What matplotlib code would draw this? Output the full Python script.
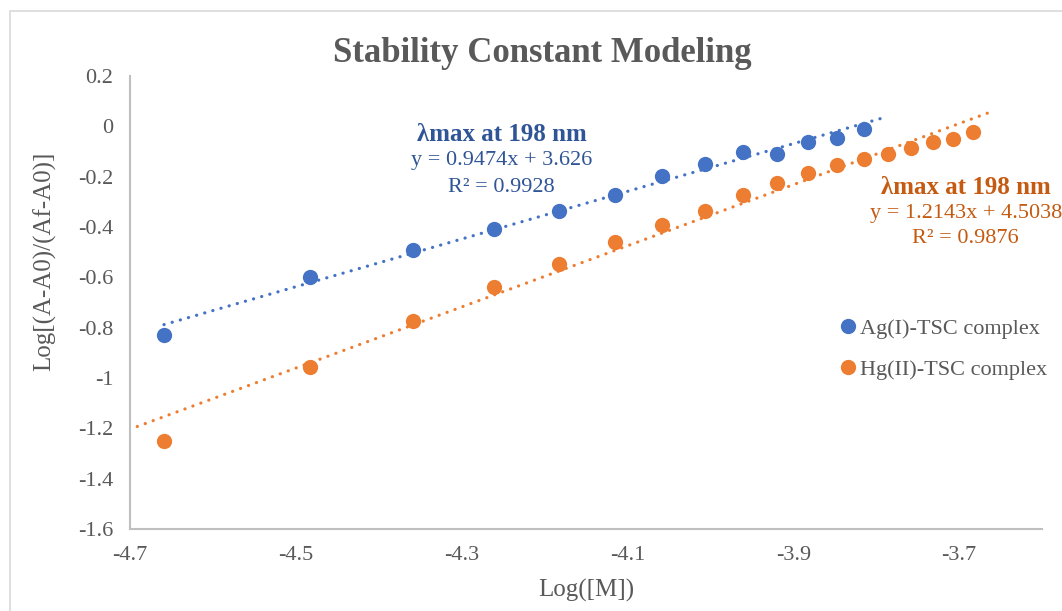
import numpy as np
import matplotlib.pyplot as plt
from matplotlib.patches import Rectangle

# log of metal concentration and response for each complex
ag_x = [-4.659, -4.483, -4.359, -4.261, -4.182, -4.115, -4.058, -4.007,
        -3.961, -3.920, -3.882, -3.847, -3.815]
ag_y = [-0.831, -0.600, -0.493, -0.406, -0.338, -0.272, -0.199, -0.151,
        -0.103, -0.109, -0.062, -0.045, -0.009]

hg_x = [-4.659, -4.483, -4.359, -4.261, -4.182, -4.115, -4.058, -4.007,
        -3.961, -3.920, -3.882, -3.847, -3.815, -3.786, -3.758, -3.731,
        -3.707, -3.683]
hg_y = [-1.249, -0.957, -0.774, -0.639, -0.549, -0.460, -0.394, -0.337,
        -0.274, -0.224, -0.186, -0.155, -0.130, -0.111, -0.086, -0.062,
        -0.049, -0.022]

# linear trendlines: slope, intercept, r2, x range drawn
ag_fit = (0.9474, 3.626, 0.9928)
hg_fit = (1.2143, 4.5038, 0.9876)
ag_fit_range = (-4.659, -3.787)
hg_fit_range = (-4.72, -3.666)

blue = '#4472C4'
orange = '#ED7D31'
blue_txt = '#2F5597'
orange_txt = '#C55A11'
grey = '#595959'

plt.rcParams['font.family'] = ['Liberation Serif', 'DejaVu Serif']

fig = plt.figure(figsize=(10.62, 6.11), dpi=100)
ax = fig.add_axes([130 / 1062, 1 - 529 / 611, 912 / 1062, 453 / 611])

# trendlines
for fit, rng, col in [(ag_fit, ag_fit_range, blue), (hg_fit, hg_fit_range, orange)]:
    xs = np.array(rng)
    ax.plot(xs, fit[0] * xs + fit[1], color=col, lw=2.3,
            linestyle=(0, (0.05, 2.6)), dash_capstyle='round', zorder=2)

ax.plot(ag_x, ag_y, 'o', color=blue, ms=11, mec='none', label='Ag(I)-TSC complex', zorder=3)
ax.plot(hg_x, hg_y, 'o', color=orange, ms=11, mec='none', label='Hg(II)-TSC complex', zorder=3)

ax.set_xlim(-4.7, -3.6)
ax.set_ylim(-1.6, 0.2)
ax.set_xticks(np.arange(-4.7, -3.6, 0.2))
ax.set_xticklabels(['-4.7', '-4.5', '-4.3', '-4.1', '-3.9', '-3.7'])
yt = np.round(np.arange(-1.6, 0.21, 0.2), 1)
ax.set_yticks(yt)
ax.set_yticklabels(['0' if v == 0 else f'{v:g}' for v in yt])
ax.tick_params(length=0, labelsize=16, labelcolor=grey, pad=12)

for s in ['top', 'right']:
    ax.spines[s].set_visible(False)
for s in ['left', 'bottom']:
    ax.spines[s].set_color('#BFBFBF')
    ax.spines[s].set_linewidth(1.5)

# equation labels
ax.text(-4.252, -0.032, 'λmax at 198 nm', color=blue_txt, fontsize=18,
        fontweight='bold', ha='center', va='center')
ax.text(-4.252, -0.135, f'y = {ag_fit[0]}x + {ag_fit[1]}', color=blue_txt,
        fontsize=16, ha='center', va='center')
ax.text(-4.252, -0.243, f'R² = {ag_fit[2]}', color=blue_txt, fontsize=16,
        ha='center', va='center')

ax.text(-3.692, -0.243, 'λmax at 198 nm', color=orange_txt, fontsize=18,
        fontweight='bold', ha='center', va='center', clip_on=False)
ax.text(-3.692, -0.346, f'y = {hg_fit[0]}x + {hg_fit[1]}', color=orange_txt,
        fontsize=16, ha='center', va='center', clip_on=False)
ax.text(-3.692, -0.445, f'R² = {hg_fit[2]}', color=orange_txt, fontsize=16,
        ha='center', va='center', clip_on=False)

fig.text(542 / 1062, 1 - 53 / 611, 'Stability Constant Modeling', fontsize=25,
         fontweight='bold', color=grey, ha='center', va='center')
fig.text(586 / 1062, 1 - 590 / 611, 'Log([M])', fontsize=18, color=grey,
         ha='center', va='center')
fig.text(45 / 1062, 1 - 261 / 611, 'Log[(A-A0)/(Af-A0)]', fontsize=18, color=grey,
         ha='center', va='center', rotation=90)

leg = ax.legend(loc='upper left', bbox_to_anchor=(841 / 1062, 1 - 318 / 611),
                bbox_transform=fig.transFigure, frameon=False, fontsize=16,
                handlelength=0.6, handletextpad=0.25, labelspacing=0.95,
                borderaxespad=0, borderpad=0)
for t in leg.get_texts():
    t.set_color(grey)

# chart area border
fig.patches.append(Rectangle((10 / 1062, -0.1), 1.2, 1.1 - 11 / 611,
                             transform=fig.transFigure, fill=False,
                             edgecolor='#D9D9D9', lw=1.2))

fig.savefig('out.png', dpi=100)
